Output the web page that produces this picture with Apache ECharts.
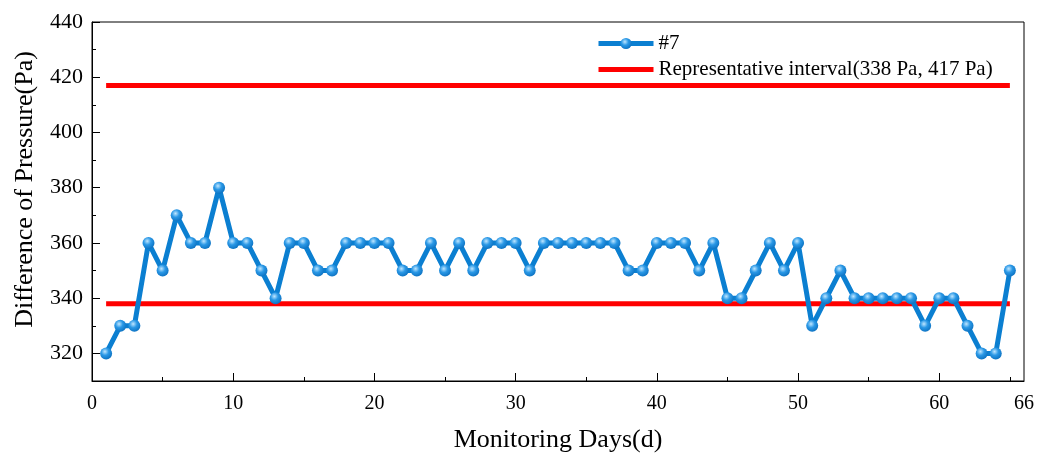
<!DOCTYPE html>
<html>
<head>
<meta charset="utf-8">
<script src="https://cdn.jsdelivr.net/npm/echarts@6/dist/echarts.min.js"></script>
<style>
html, body { margin: 0; padding: 0; background: #fff; }
#main { width: 1053px; height: 458px; }
</style>
</head>
<body>
<div id="main"></div>
<script>
// day numbers and readings for probe #7
var days = [];
for (var d = 1; d <= 65; d++) days.push(d);
var pressure = [
    320, 330, 330, 360, 350, 370, 360, 360, 380, 360,
    360, 350, 340, 360, 360, 350, 350, 360, 360, 360,
    360, 350, 350, 360, 350, 360, 350, 360, 360, 360,
    350, 360, 360, 360, 360, 360, 360, 350, 350, 360,
    360, 360, 350, 360, 340, 340, 350, 360, 350, 360,
    330, 340, 350, 340, 340, 340, 340, 340, 330, 340,
    340, 330, 320, 320, 350
];
var intervalLow = 338;
var intervalHigh = 417;
var xMajorTicks = [10, 20, 30, 40, 50, 60];
var xMinorTicks = [5, 15, 25, 35, 45, 55, 65];
var xLabels = [0, 10, 20, 30, 40, 50, 60, 66];
var yMajorTicks = [320, 340, 360, 380, 400, 420, 440];
var yMinorTicks = [330, 350, 370, 390, 410, 430];

var seriesName = '#7';
var bandName = 'Representative interval(338 Pa, 417 Pa)';
var blue = '#0b7fd1';
var font = '"Liberation Serif", "Times New Roman", serif';

var chart = echarts.init(document.getElementById('main'));

var option = {
    animation: false,
    textStyle: { fontFamily: font },
    grid: {
        left: 92, top: 22, right: 29, bottom: 77,
        show: true, borderColor: '#000', borderWidth: 1
    },
    legend: {
        orient: 'vertical',
        left: 591, top: 28,
        itemWidth: 55, itemHeight: 14,
        itemGap: 5,
        lineStyle: { width: 5 },
        textStyle: { fontFamily: font, fontSize: 21, color: '#000' },
        data: [
            { name: seriesName },
            { name: bandName, itemStyle: { opacity: 0 } }
        ]
    },
    xAxis: [{
        type: 'value',
        min: 0, max: 66,
        name: 'Monitoring Days(d)',
        nameLocation: 'middle',
        nameGap: 46,
        nameTextStyle: { fontFamily: font, fontSize: 26, color: '#000' },
        axisLine: { lineStyle: { color: '#000', width: 1 } },
        axisTick: { inside: true, length: 8, customValues: xMajorTicks, lineStyle: { color: '#000' } },
        axisLabel: { customValues: xLabels, fontFamily: font, fontSize: 20, color: '#000', margin: 13 },
        splitLine: { show: false }
    }, {
        type: 'value',
        min: 0, max: 66,
        position: 'bottom',
        axisLine: { show: false },
        axisTick: { inside: true, length: 4, customValues: xMinorTicks, lineStyle: { color: '#000' } },
        axisLabel: { show: false },
        splitLine: { show: false }
    }],
    yAxis: [{
        type: 'value',
        min: 310, max: 440, interval: 10,
        name: 'Difference of Pressure(Pa)',
        nameLocation: 'middle',
        nameGap: 54,
        nameTextStyle: { fontFamily: font, fontSize: 26, color: '#000', padding: [0, 0, 0, 24] },
        axisLine: { show: true, lineStyle: { color: '#000', width: 1 } },
        axisTick: { inside: true, length: 8, customValues: yMajorTicks, lineStyle: { color: '#000' } },
        axisLabel: {
            customValues: yMajorTicks,
            fontFamily: font, fontSize: 22, color: '#000', margin: 9
        },
        splitLine: { show: false }
    }, {
        type: 'value',
        min: 310, max: 440, interval: 10,
        position: 'left',
        axisLine: { show: false },
        axisTick: { inside: true, length: 4, customValues: yMinorTicks, lineStyle: { color: '#000' } },
        axisLabel: { show: false },
        splitLine: { show: false }
    }],
    series: [{
        name: bandName,
        type: 'line',
        data: [[days[0], intervalHigh], [days[days.length - 1], intervalHigh]],
        symbol: 'none',
        lineStyle: { color: '#ff0000', width: 5 },
        itemStyle: { color: '#ff0000' },
        z: 1
    }, {
        name: bandName,
        type: 'line',
        data: [[days[0], intervalLow], [days[days.length - 1], intervalLow]],
        symbol: 'none',
        lineStyle: { color: '#ff0000', width: 5 },
        itemStyle: { color: '#ff0000' },
        z: 1
    }, {
        name: seriesName,
        type: 'line',
        data: days.map(function (d, i) { return [d, pressure[i]]; }),
        symbol: 'circle',
        symbolSize: 12,
        showAllSymbol: true,
        lineStyle: { color: blue, width: 5 },
        itemStyle: {
            color: new echarts.graphic.RadialGradient(0.4, 0.35, 0.7, [
                { offset: 0, color: '#bfe6ff' },
                { offset: 0.45, color: '#2a98e6' },
                { offset: 1, color: '#0a6fbf' }
            ]),
            borderWidth: 0
        },
        z: 3
    }]
};

chart.setOption(option);
</script>
</body>
</html>
